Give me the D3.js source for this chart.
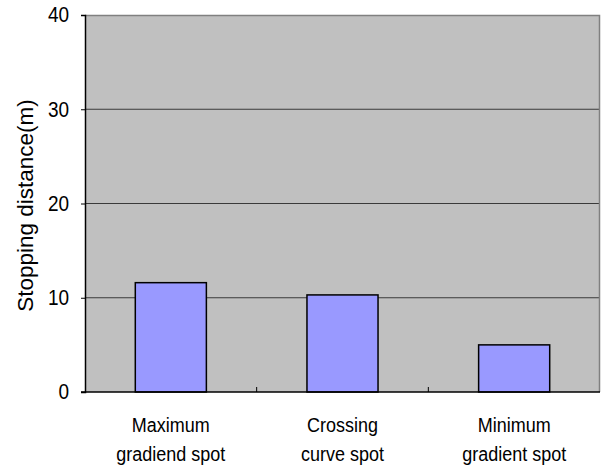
<!DOCTYPE html>
<html>
<head>
<meta charset="utf-8">
<script src="https://cdn.jsdelivr.net/npm/d3@7"></script>
<style>
  html, body { margin: 0; padding: 0; background: #fff; }
  svg { display: block; font-family: "Liberation Sans", Arial, sans-serif; }
</style>
</head>
<body>
<svg id="chart" width="604" height="467"></svg>
<script>
// Stopping distance per measurement spot
const categories = [["Maximum", "gradiend spot"], ["Crossing", "curve spot"], ["Minimum", "gradient spot"]];
const values = [11.6, 10.3, 5.0];
const yTicks = [0, 10, 20, 30, 40];
const yTitle = "Stopping distance(m)";

const svg = d3.select("#chart");
const plot = { left: 85, right: 600, top: 15, bottom: 392 };
const stretch = 1.12; // glyphs are drawn slightly taller than wide

const x = d3.scaleBand()
  .domain(d3.range(categories.length))
  .range([plot.left, plot.right])
  .paddingInner(0.586)
  .paddingOuter(0.293);

const y = d3.scaleLinear().domain([0, 40]).range([plot.bottom, plot.top]);

// plot background
svg.append("rect")
  .attr("x", plot.left).attr("y", plot.top)
  .attr("width", plot.right - plot.left).attr("height", plot.bottom - plot.top)
  .attr("fill", "#c0c0c0");

// horizontal gridlines
svg.append("g").selectAll("line")
  .data(yTicks.filter(d => d > 0 && d < 40))
  .join("line")
  .attr("x1", plot.left).attr("x2", plot.right)
  .attr("y1", d => y(d)).attr("y2", d => y(d))
  .attr("stroke", "#3a3a3a").attr("stroke-width", 1);

// top and right frame
svg.append("path")
  .attr("d", `M${plot.left},${plot.top + 0.5}H${plot.right - 0.5}V${plot.bottom}`)
  .attr("fill", "none").attr("stroke", "#808080").attr("stroke-width", 1.5);

// bars
svg.append("g").selectAll("rect")
  .data(values)
  .join("rect")
  .attr("x", (d, i) => x(i))
  .attr("y", d => y(d))
  .attr("width", x.bandwidth())
  .attr("height", d => y(0) - y(d))
  .attr("fill", "#9999ff")
  .attr("stroke", "#000").attr("stroke-width", 1.5);

// y axis
const yAxis = d3.axisLeft(y).tickValues(yTicks).tickSize(4).tickPadding(12);
const gy = svg.append("g").attr("transform", `translate(${plot.left},0)`).call(yAxis);
gy.select(".domain").attr("stroke", "#000").attr("stroke-width", 1.5);
gy.selectAll(".tick line").attr("stroke", "#000");
gy.selectAll(".tick text")
  .attr("font-size", 19).attr("fill", "#000")
  .attr("font-family", "Liberation Sans, Arial, sans-serif")
  .attr("transform", `scale(1,${stretch})`);

// x axis baseline with inward ticks at category boundaries
svg.append("line")
  .attr("x1", plot.left - 4).attr("x2", plot.right)
  .attr("y1", plot.bottom).attr("y2", plot.bottom)
  .attr("stroke", "#000").attr("stroke-width", 1.5);
const bounds = d3.range(1, categories.length).map(i => x(i) - x.step() * x.paddingInner() / 2);
svg.append("g").selectAll("line")
  .data(bounds)
  .join("line")
  .attr("x1", d => d).attr("x2", d => d)
  .attr("y1", plot.bottom).attr("y2", plot.bottom - 5)
  .attr("stroke", "#000");

// category labels (two lines each)
const labels = svg.append("g")
  .attr("font-size", 18).attr("fill", "#000").attr("text-anchor", "middle");
categories.forEach((lines, i) => {
  const cx = x(i) + x.bandwidth() / 2;
  lines.forEach((t, j) => {
    labels.append("text")
      .attr("transform", `translate(${cx},${432 + j * 29}) scale(1,${stretch})`)
      .text(t);
  });
});

// y axis title
svg.append("text")
  .attr("transform", "translate(32.5,205.5) rotate(-90)")
  .attr("text-anchor", "middle")
  .attr("font-size", 22.5).attr("fill", "#000")
  .text(yTitle);
</script>
</body>
</html>
